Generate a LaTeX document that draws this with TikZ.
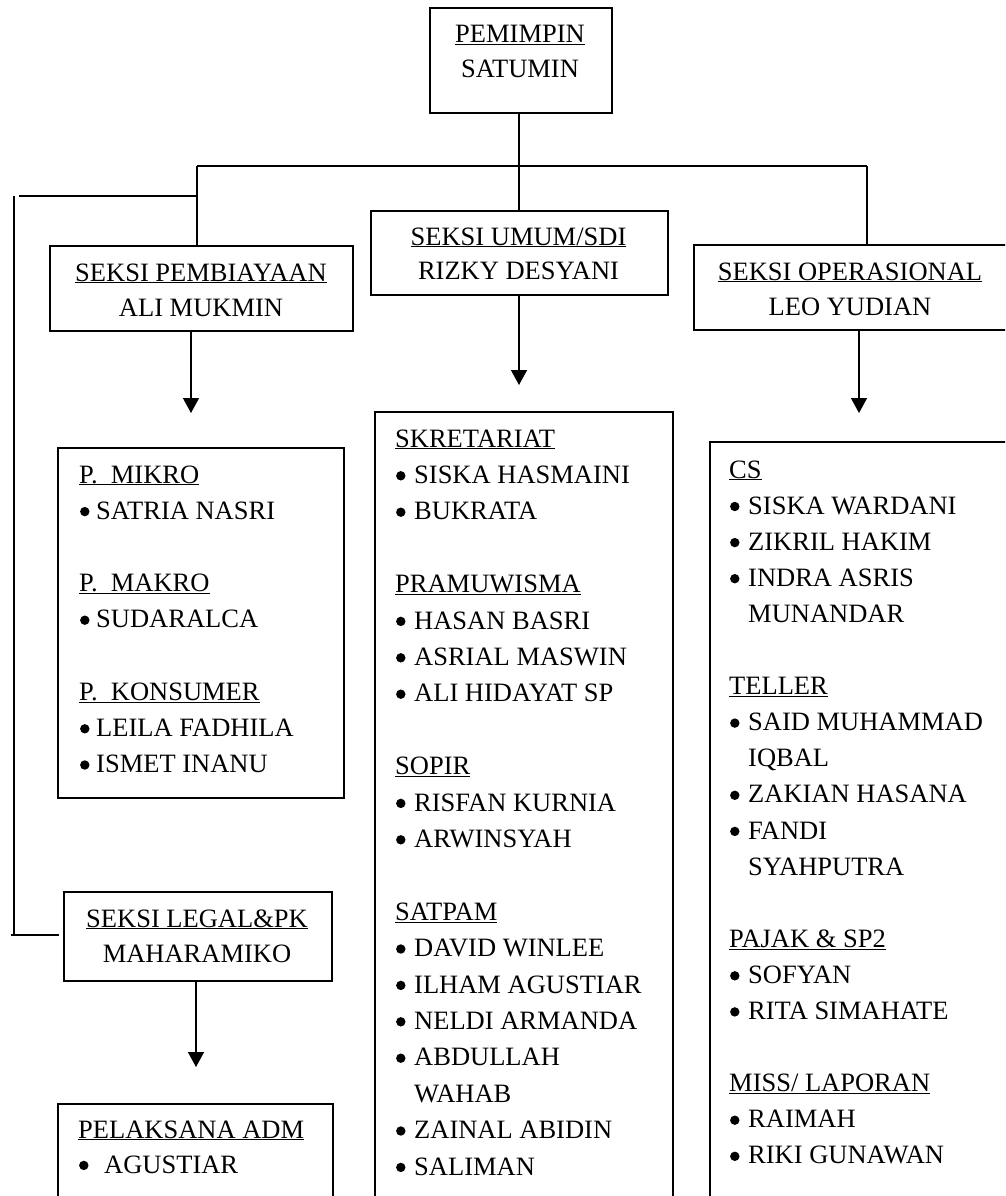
\documentclass[tikz,border=0pt]{standalone}
\usepackage{fontspec}
\setmainfont{Liberation Serif}
\usetikzlibrary{arrows.meta}
\newcommand\hd[1]{\setbox0\hbox{#1}\rlap{\rule[-2.4pt]{\wd0}{1.1pt}}\box0}
\newcommand\bdot{\tikz[baseline=0pt]{\path (0pt,0pt) (10pt,0pt); \fill (5.6pt,7.6pt) circle[radius=4.7pt];}}
\newcommand\bl[2][19pt]{\makebox[#1][l]{\bdot}#2}
\newcommand\ct[2][19pt]{\hspace*{#1}#2}
\newcommand\sls{/}
\tikzset{
  orgbox/.style={draw, line width=1.6pt, inner sep=0pt, anchor=north west},
  txt/.style={anchor=base west, inner sep=0pt, font=\fontsize{26.5}{36}\selectfont},
  ttl/.style={anchor=base, inner sep=0pt, font=\fontsize{26.5}{36}\selectfont},
  ln/.style={line width=1.4pt},
  arr/.style={line width=1.4pt, -{Triangle[width=16pt,length=15pt]}}
}
\begin{document}
\begin{tikzpicture}[x=1pt,y=-1pt]
\clip (0,0) rectangle (1005,1196);
\fill[white] (0,0) rectangle (1005,1196);
% boxes
\node[orgbox, minimum width=182pt, minimum height=105pt] (pem) at (429,7) {};
\node[orgbox, minimum width=303pt, minimum height=85pt] (pemb) at (49,245) {};
\node[orgbox, minimum width=297pt, minimum height=84pt] (umum) at (370,210) {};
\node[orgbox, minimum width=314pt, minimum height=85pt] (oper) at (693,244) {};
\node[orgbox, minimum width=286pt, minimum height=350pt] (mikro) at (57,447) {};
\node[orgbox, minimum width=298pt, minimum height=800pt] (mid) at (374,411) {};
\node[orgbox, minimum width=300pt, minimum height=800pt] (opl) at (709,441) {};
\node[orgbox, minimum width=268pt, minimum height=89pt] (legal) at (63,891) {};
\node[orgbox, minimum width=275pt, minimum height=100pt] (pel) at (57,1103) {};
% titles
\node[ttl] (pemA) at (520,43) {\hd{PEMIMPIN}};
\node[ttl] (pemB) at (520,78) {SATUMIN};
\node[ttl] (pembA) at (201,281) {\hd{SEKSI PEMBIAYAAN}};
\node[ttl] (pembB) at (201,316) {ALI MUKMIN};
\node[ttl] (umumA) at (518.5,245) {\hd{SEKSI UMUM/SDI}};
\node[ttl] (umumB) at (518.5,279) {RIZKY DESYANI};
\node[ttl] (operA) at (850,280) {\hd{SEKSI OPERASIONAL}};
\node[ttl] (operB) at (850,315.5) {LEO YUDIAN};
\node[ttl] (legalA) at (197,927) {\hd{SEKSI LEGAL\&PK}};
\node[ttl] (legalB) at (197,962) {MAHARAMIKO};
% lists
\foreach \n/\t in {0/{\hd{P.\ \ MIKRO}},1/{\bl[17pt]{SATRIA NASRI}},3/{\hd{P.\ \ MAKRO}},4/{\bl[17pt]{SUDARALCA}},6/{\hd{P.\ \ KONSUMER}},7/{\bl[17pt]{LEILA FADHILA}},8/{\bl[17pt]{ISMET INANU}}}
  \node[txt] (mk\n) at (79,483+36.2*\n) {\t};
\foreach \n/\t in {0/{\hd{SKRETARIAT}},1/{\bl{SISKA HASMAINI}},2/{\bl{BUKRATA}},4/{\hd{PRAMUWISMA}},5/{\bl{HASAN BASRI}},6/{\bl{ASRIAL MASWIN}},7/{\bl{ALI HIDAYAT SP}},9/{\hd{SOPIR}},10/{\bl{RISFAN KURNIA}},11/{\bl{ARWINSYAH}},13/{\hd{SATPAM}},14/{\bl{DAVID WINLEE}},15/{\bl{ILHAM AGUSTIAR}},16/{\bl{NELDI ARMANDA}},17/{\bl{ABDULLAH}},18/{\ct{WAHAB}},19/{\bl{ZAINAL ABIDIN}},20/{\bl{SALIMAN}}}
  \node[txt] (md\n) at (395,447+36.4*\n) {\t};
\foreach \n/\t in {0/{\hd{CS}},1/{\bl{SISKA WARDANI}},2/{\bl{ZIKRIL HAKIM}},3/{\bl{INDRA ASRIS}},4/{\ct{MUNANDAR}},6/{\hd{TELLER}},7/{\bl{SAID MUHAMMAD}},8/{\ct{IQBAL}},9/{\bl{ZAKIAN HASANA}},10/{\bl{FANDI}},11/{\ct{SYAHPUTRA}},13/{\hd{PAJAK \& SP2}},14/{\bl{SOFYAN}},15/{\bl{RITA SIMAHATE}},17/{\hd{MISS\sls{} LAPORAN}},18/{\bl{RAIMAH}},19/{\bl{RIKI GUNAWAN}}}
  \node[txt] (op\n) at (729,478+36.1*\n) {\t};
\node[txt] (pl0) at (78,1138) {\hd{PELAKSANA ADM}};
\node[txt] (pl1) at (78,1173) {\bl[26pt]{AGUSTIAR}};
% connector coordinates
\coordinate (cx) at (519,0);
\coordinate (hL) at (197,166);
\coordinate (hR) at (867,166);
\coordinate (lT) at (197,196);
\coordinate (lS) at (19,196);
\coordinate (vT) at (14,196);
\coordinate (vB) at (14,935);
\coordinate (bS) at (11,935);
\coordinate (bE) at (59,935);
\coordinate (a1) at (191,413);
\coordinate (a2) at (519,385);
\coordinate (a3) at (859,413);
\coordinate (a4) at (196,1067);
% connectors
\draw[ln] (pem.south -| cx) -- (umum.north -| cx);
\draw[ln] (hL) -- (hR);
\draw[ln] (hL) -- (hL |- pemb.north);
\draw[ln] (hR) -- (hR |- oper.north);
\draw[ln] (lS) -- (lT);
\draw[ln] (vT) -- (vB);
\draw[ln] (bS) -- (bE);
\draw[arr] (pemb.south -| a1) -- (a1);
\draw[arr] (umum.south -| a2) -- (a2);
\draw[arr] (oper.south -| a3) -- (a3);
\draw[arr] (legal.south -| a4) -- (a4);
\end{tikzpicture}
\end{document}
